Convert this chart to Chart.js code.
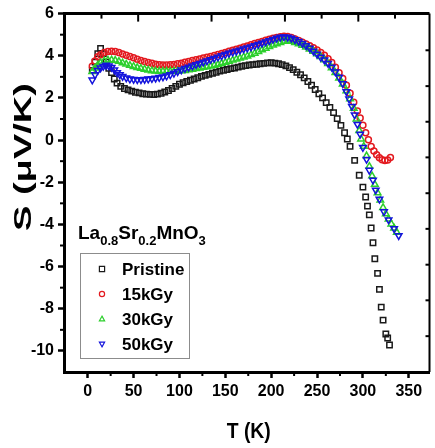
<!DOCTYPE html>
<html>
<head>
<meta charset="utf-8">
<script src="https://cdn.jsdelivr.net/npm/chart.js@4.4.1/dist/chart.umd.min.js"></script>
<style>
  html, body { margin: 0; padding: 0; background: #fff; }
  #wrap { width: 435px; height: 448px; }
</style>
</head>
<body>
<div id="wrap"><canvas id="seebeck" width="435" height="448"></canvas></div>
<script>
// Temperature T (K) and thermopower S (uV/K)
const pristineT = [5, 8, 11, 14, 17, 20, 23, 26, 29, 32, 36, 40, 44, 48, 52, 56, 60, 64, 68, 72, 76, 80, 84, 88, 92, 96, 100, 104, 108, 112, 116, 120, 124, 128, 132, 136, 140, 144, 148, 152, 156, 160, 164, 168, 172, 176, 180, 184, 188, 192, 196, 200, 204, 208, 212, 216, 220, 224, 228, 232, 236, 240, 244, 248, 252, 256, 260, 264, 268, 272, 276, 280, 283, 286, 291, 296, 300, 303, 305, 307, 309, 311, 313, 316, 318, 320, 322, 325, 327, 329];
const pristineS = [3.3, 3.7, 4.1, 4.35, 4.1, 3.7, 3.4, 3.2, 2.9, 2.7, 2.55, 2.45, 2.38, 2.32, 2.27, 2.24, 2.2, 2.18, 2.17, 2.16, 2.18, 2.22, 2.28, 2.35, 2.45, 2.55, 2.65, 2.72, 2.78, 2.84, 2.9, 2.96, 3.02, 3.07, 3.12, 3.17, 3.22, 3.27, 3.31, 3.35, 3.39, 3.42, 3.46, 3.5, 3.53, 3.56, 3.58, 3.6, 3.62, 3.64, 3.66, 3.67, 3.65, 3.62, 3.58, 3.52, 3.44, 3.34, 3.22, 3.1, 2.95, 2.78, 2.6, 2.4, 2.2, 2.0, 1.78, 1.55, 1.3, 1.02, 0.7, 0.35, 0.05, -0.3, -0.96, -1.67, -2.23, -2.7, -3.13, -3.55, -4.17, -4.87, -5.63, -6.32, -7.08, -7.92, -8.54, -9.2, -9.39, -9.72];

const gy15T = [5, 8, 11, 14, 18, 22, 26, 30, 34, 38, 42, 46, 50, 54, 58, 62, 66, 70, 74, 78, 82, 86, 90, 94, 98, 102, 106, 110, 114, 118, 122, 126, 130, 134, 138, 142, 146, 150, 154, 158, 162, 166, 170, 174, 178, 182, 186, 190, 194, 198, 202, 206, 210, 214, 218, 222, 226, 230, 234, 238, 242, 246, 250, 254, 258, 262, 266, 270, 274, 278, 282, 286, 290, 294, 297, 300, 303, 306, 309, 312, 315, 318, 321, 324, 327, 330];
const gy15S = [3.5, 3.75, 3.95, 4.05, 4.15, 4.2, 4.22, 4.2, 4.15, 4.08, 4.02, 3.96, 3.9, 3.84, 3.78, 3.73, 3.68, 3.64, 3.6, 3.57, 3.56, 3.56, 3.57, 3.59, 3.62, 3.65, 3.69, 3.73, 3.77, 3.81, 3.85, 3.89, 3.93, 3.97, 4.01, 4.06, 4.11, 4.16, 4.21, 4.26, 4.31, 4.36, 4.41, 4.46, 4.52, 4.58, 4.63, 4.68, 4.73, 4.78, 4.83, 4.87, 4.9, 4.92, 4.91, 4.87, 4.8, 4.72, 4.64, 4.56, 4.48, 4.38, 4.27, 4.15, 4.02, 3.86, 3.68, 3.45, 3.2, 2.92, 2.6, 2.22, 1.8, 1.38, 1.05, 0.7, 0.35, 0.02, -0.3, -0.52, -0.7, -0.84, -0.93, -0.97, -0.95, -0.82];

const gy30T = [5, 8, 11, 14, 18, 22, 26, 30, 34, 38, 42, 46, 50, 54, 58, 62, 66, 70, 74, 78, 82, 86, 90, 94, 98, 102, 106, 110, 114, 118, 122, 126, 130, 134, 138, 142, 146, 150, 154, 158, 162, 166, 170, 174, 178, 182, 186, 190, 194, 198, 202, 206, 210, 214, 218, 222, 226, 230, 234, 238, 242, 246, 250, 254, 258, 262, 266, 270, 274, 278, 282, 286, 290, 293, 296, 298, 301, 304, 307, 310, 313, 316, 319, 322, 325, 328, 331, 334, 337];
const gy30S = [3.25, 3.42, 3.56, 3.67, 3.75, 3.79, 3.8, 3.78, 3.73, 3.66, 3.6, 3.54, 3.49, 3.44, 3.4, 3.36, 3.32, 3.29, 3.27, 3.26, 3.26, 3.26, 3.26, 3.26, 3.27, 3.28, 3.3, 3.33, 3.36, 3.39, 3.42, 3.45, 3.48, 3.51, 3.55, 3.59, 3.64, 3.69, 3.74, 3.79, 3.84, 3.89, 3.94, 3.99, 4.05, 4.12, 4.2, 4.28, 4.35, 4.43, 4.5, 4.57, 4.63, 4.68, 4.7, 4.68, 4.63, 4.56, 4.49, 4.41, 4.32, 4.21, 4.09, 3.96, 3.81, 3.63, 3.43, 3.2, 2.94, 2.66, 2.33, 1.96, 1.5, 1.0, 0.45, 0.05, -0.3, -0.75, -1.25, -1.7, -2.1, -2.5, -2.85, -3.2, -3.5, -3.75, -3.98, -4.18, -4.38];

const gy50T = [5, 8, 11, 14, 17, 20, 23, 26, 29, 32, 35, 38, 42, 46, 50, 54, 58, 62, 66, 70, 74, 78, 82, 86, 90, 94, 98, 102, 106, 110, 114, 118, 122, 126, 130, 134, 138, 142, 146, 150, 154, 158, 162, 166, 170, 174, 178, 182, 186, 190, 194, 198, 202, 206, 210, 214, 218, 222, 226, 230, 234, 238, 242, 246, 250, 254, 258, 262, 266, 270, 274, 278, 282, 285, 288, 291, 294, 297, 300, 304, 307, 311, 314, 318, 323, 328, 334, 339];
const gy50S = [2.85, 3.1, 3.3, 3.42, 3.5, 3.55, 3.52, 3.45, 3.33, 3.2, 3.1, 3.02, 2.95, 2.9, 2.88, 2.87, 2.87, 2.88, 2.9, 2.92, 2.94, 2.97, 3.0, 3.04, 3.1, 3.17, 3.25, 3.33, 3.4, 3.46, 3.52, 3.58, 3.64, 3.7, 3.76, 3.82, 3.88, 3.94, 4.0, 4.06, 4.12, 4.17, 4.22, 4.27, 4.32, 4.37, 4.42, 4.48, 4.54, 4.6, 4.66, 4.72, 4.78, 4.83, 4.88, 4.9, 4.88, 4.83, 4.76, 4.68, 4.59, 4.48, 4.36, 4.22, 4.08, 3.93, 3.8, 3.64, 3.46, 3.24, 2.98, 2.68, 2.3, 1.95, 1.6, 1.2, 0.75, 0.28, -0.35, -0.91, -1.43, -1.9, -2.37, -2.8, -3.4, -3.78, -4.2, -4.53];

const seriesNames = ['Pristine', '15kGy', '30kGy', '50kGy'];
const seriesColors = ['#1a1a1a', '#e3191f', '#2ccf2c', '#1414dc'];

const xTicks = [0, 50, 100, 150, 200, 250, 300, 350];
const xMinorTicks = [25, 75, 125, 175, 225, 275, 325];
const yTicks = [-10, -8, -6, -4, -2, 0, 2, 4, 6];
const yMinorTicks = [-9, -7, -5, -3, -1, 1, 3, 5];
// mirror ticks on the top and right frame (do not line up with the main axes)
const topTicks = [15, 55, 95, 135, 175, 215, 255, 295, 335];
const rightTicks = [4.26, 2.56, 0.87, -0.82, -2.52, -4.21, -5.91, -7.6, -9.3];

const FONT = "'Liberation Sans', Arial, sans-serif";

function toPoints(ts, ss) {
  return ts.map((t, i) => ({ x: t, y: ss[i] }));
}

function marker(ctx, style, x, y, r) {
  ctx.beginPath();
  if (style === 'rect') {
    ctx.rect(x - r, y - r, 2 * r, 2 * r);
  } else if (style === 'circle') {
    ctx.arc(x, y, r, 0, Math.PI * 2);
  } else if (style === 'up') {
    ctx.moveTo(x, y - r * 1.1);
    ctx.lineTo(x + r, y + r * 0.7);
    ctx.lineTo(x - r, y + r * 0.7);
    ctx.closePath();
  } else {
    ctx.moveTo(x, y + r * 1.1);
    ctx.lineTo(x + r, y - r * 0.7);
    ctx.lineTo(x - r, y - r * 0.7);
    ctx.closePath();
  }
  ctx.stroke();
}

const framePlugin = {
  id: 'frame',
  afterDraw(chart) {
    const { ctx, chartArea: a, scales: { x, y } } = chart;
    ctx.save();
    ctx.strokeStyle = '#000';
    ctx.lineCap = 'butt';

    // top and right border
    ctx.lineWidth = 3;
    ctx.beginPath();
    ctx.moveTo(a.left, a.top);
    ctx.lineTo(a.right, a.top);
    ctx.stroke();
    ctx.lineWidth = 2;
    ctx.beginPath();
    ctx.moveTo(a.right, a.top);
    ctx.lineTo(a.right, a.bottom);
    ctx.stroke();

    // minor ticks, pointing out
    ctx.lineWidth = 2;
    xMinorTicks.forEach(v => {
      const px = x.getPixelForValue(v);
      ctx.beginPath();
      ctx.moveTo(px, a.bottom);
      ctx.lineTo(px, a.bottom + 4);
      ctx.stroke();
    });
    yMinorTicks.forEach(v => {
      const py = y.getPixelForValue(v);
      ctx.beginPath();
      ctx.moveTo(a.left, py);
      ctx.lineTo(a.left - 4, py);
      ctx.stroke();
    });

    // mirror ticks, pointing in
    topTicks.forEach((v, i) => {
      const px = x.getPixelForValue(v);
      ctx.beginPath();
      ctx.moveTo(px, a.top);
      ctx.lineTo(px, a.top + (i % 2 ? 8 : 5));
      ctx.stroke();
    });
    rightTicks.forEach(v => {
      const py = y.getPixelForValue(v);
      ctx.beginPath();
      ctx.moveTo(a.right, py);
      ctx.lineTo(a.right - 4, py);
      ctx.stroke();
    });

    // axis titles
    ctx.fillStyle = '#000';
    ctx.textAlign = 'center';
    ctx.textBaseline = 'alphabetic';
    ctx.font = 'bold 22px ' + FONT;
    let w = ctx.measureText('T (K)').width;
    ctx.save();
    ctx.translate((a.left + a.right) / 2 + 2, 438);
    ctx.scale(44 / w, 1);
    ctx.fillText('T (K)', 0, 0);
    ctx.restore();

    ctx.font = 'bold 23px ' + FONT;
    w = ctx.measureText('S (\u03bcV/K)').width;
    ctx.save();
    ctx.translate(31, 157);
    ctx.rotate(-Math.PI / 2);
    ctx.scale(148 / w, 1);
    ctx.fillText('S (\u03bcV/K)', 0, 0);
    ctx.restore();

    // sample label with subscripts
    const parts = [['La', 0], ['0.8', 1], ['Sr', 0], ['0.2', 1], ['MnO', 0], ['3', 1]];
    let tx = 78;
    ctx.textAlign = 'left';
    parts.forEach(([s, sub]) => {
      ctx.font = sub ? 'bold 13px ' + FONT : 'bold 19px ' + FONT;
      ctx.fillText(s, tx, sub ? 245 : 239);
      tx += ctx.measureText(s).width;
    });

    // legend box
    ctx.strokeStyle = '#8c8c8c';
    ctx.lineWidth = 1;
    ctx.strokeRect(80.5, 253.5, 109, 105);
    const styles = ['rect', 'circle', 'up', 'down'];
    const rowsY = [269, 294, 319, 344];
    ctx.font = 'bold 17px ' + FONT;
    ctx.textBaseline = 'middle';
    seriesNames.forEach((name, i) => {
      ctx.strokeStyle = seriesColors[i];
      ctx.lineWidth = 1.2;
      marker(ctx, styles[i], 102, rowsY[i], 2.6);
      ctx.fillStyle = '#000';
      ctx.fillText(name, 122, rowsY[i] + 1);
    });
    ctx.restore();
  }
};

const ctx = document.getElementById('seebeck').getContext('2d');
const seebeckChart = new Chart(ctx, {
  type: 'scatter',
  data: {
    datasets: [
      {
        label: seriesNames[0],
        data: toPoints(pristineT, pristineS),
        pointStyle: 'rect',
        pointRadius: 3.8,
        pointBorderWidth: 1.5,
        borderColor: seriesColors[0],
        backgroundColor: 'rgba(0,0,0,0)',
        order: 3
      },
      {
        label: seriesNames[1],
        data: toPoints(gy15T, gy15S),
        pointStyle: 'circle',
        pointRadius: 3,
        pointBorderWidth: 1.5,
        borderColor: seriesColors[1],
        backgroundColor: 'rgba(0,0,0,0)',
        order: 2
      },
      {
        label: seriesNames[2],
        data: toPoints(gy30T, gy30S),
        pointStyle: 'triangle',
        pointRadius: 3.8,
        pointBorderWidth: 1.5,
        borderColor: seriesColors[2],
        backgroundColor: 'rgba(0,0,0,0)',
        order: 1
      },
      {
        label: seriesNames[3],
        data: toPoints(gy50T, gy50S),
        pointStyle: 'triangle',
        pointRotation: 180,
        pointRadius: 3.8,
        pointBorderWidth: 1.5,
        borderColor: seriesColors[3],
        backgroundColor: 'rgba(0,0,0,0)',
        order: 0
      }
    ]
  },
  options: {
    responsive: false,
    animation: false,
    events: [],
    layout: { padding: { top: 11, right: 1, left: 0, bottom: 0 } },
    plugins: {
      legend: { display: false },
      tooltip: { enabled: false }
    },
    scales: {
      x: {
        type: 'linear',
        min: -25.85,
        max: 372.6,
        afterBuildTicks(axis) { axis.ticks = xTicks.map(v => ({ value: v })); },
        afterFit(axis) { axis.height = 76; },
        ticks: {
          color: '#000',
          padding: 4,
          maxRotation: 0,
          font: { family: FONT, weight: 'bold', size: 16 },
          callback: v => String(v)
        },
        grid: { drawOnChartArea: false, tickLength: 6, tickWidth: 2.5, tickColor: '#000' },
        border: { color: '#000', width: 3 }
      },
      y: {
        type: 'linear',
        min: -11,
        max: 6,
        afterBuildTicks(axis) { axis.ticks = yTicks.map(v => ({ value: v })); },
        afterFit(axis) { axis.width = 64; },
        ticks: {
          color: '#000',
          padding: 4,
          font: { family: FONT, weight: 'bold', size: 16 },
          callback: v => String(v)
        },
        grid: { drawOnChartArea: false, tickLength: 6, tickWidth: 2.5, tickColor: '#000' },
        border: { color: '#000', width: 3 }
      }
    }
  },
  plugins: [framePlugin]
});
</script>
</body>
</html>
